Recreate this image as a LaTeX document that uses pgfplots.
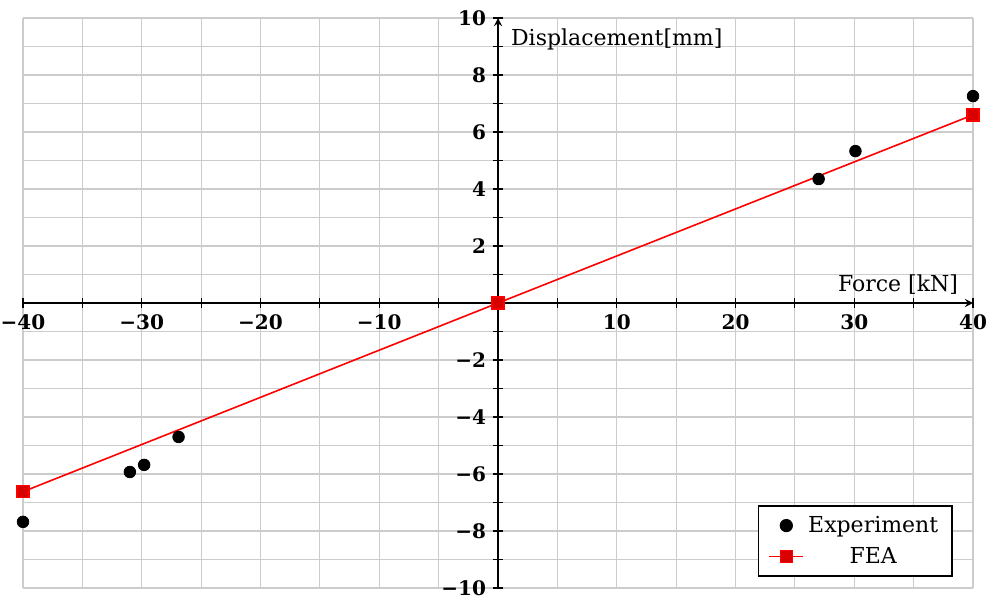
\documentclass[border=0pt]{standalone}
\usepackage{pgfplots}
\pgfplotsset{compat=1.18}
\usepackage{fontspec}
\setmainfont{DejaVu Serif}

\begin{document}
\begin{tikzpicture}
\begin{axis}[
  scale only axis,
  width=475pt, height=285pt,
  axis lines=middle,
  xmin=-40, xmax=40, ymin=-10, ymax=10,
  xtick={-40,-30,...,40},
  xticklabels={−40,−30,−20,−10,,10,20,30,40},
  ytick={-10,-8,...,10},
  yticklabels={−10,−8,−6,−4,−2,,2,4,6,8,10},
  minor xtick={-35,-25,...,35},
  minor ytick={-9,-7,...,9},
  grid=both,
  major grid style={gray!40, line width=0.6pt},
  minor grid style={gray!40, line width=0.6pt},
  axis line style={line width=0.8pt, black},
  tick style={black, line width=0.6pt},
  major tick length=5pt,
  minor tick length=5pt,
  tick label style={font=\fontsize{10}{12}\selectfont\bfseries},
  xlabel={Force [kN]},
  ylabel={Displacement[mm]},
  label style={font=\fontsize{11}{13}\selectfont},
  xlabel style={at={(axis cs:40,0)}, anchor=south east, xshift=-4pt, yshift=1pt},
  ylabel style={at={(axis cs:0,10)}, anchor=north west, rotate=0, xshift=3pt, yshift=-2pt},
  legend style={at={(rel axis cs:1,0)}, anchor=south east, xshift=-10pt, yshift=5.5pt,
    draw=black, line width=0.8pt,
    font=\fontsize{11}{13}\selectfont, row sep=2pt, inner xsep=5pt, inner ysep=3pt},
  legend cell align=center,
  clip=false,
]
\coordinate (bl) at (rel axis cs:0,0);
\coordinate (tr) at (rel axis cs:1,1);
\addplot[only marks, mark=*, mark size=2.9pt, black] coordinates {
  (-40,-7.68) (-31.0,-5.93) (-29.8,-5.68) (-26.9,-4.70)
  (27.0,4.35) (30.1,5.33) (40,7.26)
};
\addlegendentry{Experiment}
\addplot[red, line width=0.8pt, mark=square*, mark size=3pt, mark options={fill=red!85!black, draw=red}] coordinates {
  (-40,-6.62) (0,0) (40,6.60)
};
\addlegendentry{FEA}
\end{axis}
\pgfresetboundingbox
\path[use as bounding box] ([xshift=-11.5pt,yshift=-3.5pt]bl) rectangle ([xshift=8pt,yshift=9pt]tr);
\end{tikzpicture}
\end{document}
